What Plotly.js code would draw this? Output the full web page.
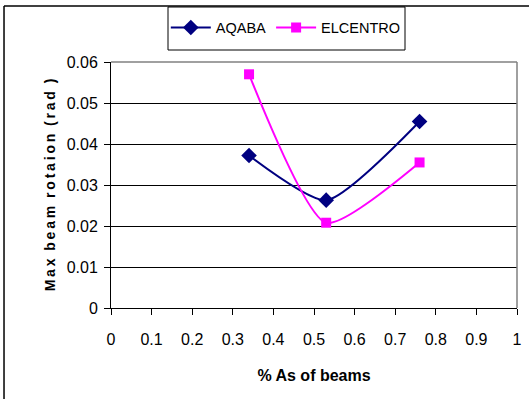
<!DOCTYPE html>
<html>
<head>
<meta charset="utf-8">
<script src="https://cdn.plot.ly/plotly-3.0.1.min.js"></script>
<style>
  html, body { margin: 0; padding: 0; background: #fff; }
  #chart { width: 529px; height: 399px; }
</style>
</head>
<body>
<div id="chart"></div>
<script>
// Steel ratio of beams (%As) against peak beam rotation for two records
const asRatio = [0.34, 0.53, 0.76];
const aqabaRotation = [0.0372, 0.0263, 0.0455];
const elcentroRotation = [0.0570, 0.0208, 0.0355];
const xTicks = [0, 0.1, 0.2, 0.3, 0.4, 0.5, 0.6, 0.7, 0.8, 0.9, 1];
const yTicks = [0, 0.01, 0.02, 0.03, 0.04, 0.05, 0.06];

const sans = '"Liberation Sans", Arial, sans-serif';
const tickFont = { family: sans, size: 16, color: '#000' };

// letter-spaced axis caption
const spaced = s => s.split(' ').map(w => w.split('').join('\u2009')).join('\u00a0\u00a0');
const yTitle = spaced('Max beam rotaion (rad )');

const traces = [
  {
    x: asRatio, y: aqabaRotation, name: 'AQABA',
    mode: 'lines+markers', type: 'scatter',
    line: { color: '#000080', width: 2, shape: 'spline', smoothing: 0.6 },
    marker: { symbol: 'diamond', size: 12, color: '#000080' }
  },
  {
    x: asRatio, y: elcentroRotation, name: 'ELCENTRO',
    mode: 'lines+markers', type: 'scatter',
    line: { color: '#FF00FF', width: 2, shape: 'spline', smoothing: 0.6 },
    marker: { symbol: 'square', size: 10, color: '#FF00FF' }
  }
];

const layout = {
  width: 529, height: 399,
  margin: { l: 111, r: 12, t: 62, b: 91 },
  paper_bgcolor: '#fff', plot_bgcolor: '#fff',
  showlegend: true,
  legend: {
    orientation: 'h', x: 0.135, xanchor: 'left', y: 1.14, yanchor: 'middle',
    borderwidth: 0, bgcolor: 'rgba(0,0,0,0)',
    font: { family: sans, size: 14.5, color: '#000' },
    itemwidth: 40
  },
  xaxis: {
    range: [0, 1], tickvals: xTicks, ticktext: xTicks.map(String),
    showgrid: false, zeroline: false,
    showline: true, linecolor: '#000', linewidth: 1,
    ticks: 'outside', ticklen: 6, tickcolor: '#000',
    tickfont: tickFont, ticklabelstandoff: 11,
    title: { text: '% As of beams', font: { family: sans, size: 16, color: '#000', weight: 'bold' }, standoff: 22 }
  },
  yaxis: {
    range: [0, 0.06], tickvals: yTicks, ticktext: yTicks.map(String),
    showgrid: true, gridcolor: '#000', gridwidth: 1,
    zeroline: false,
    showline: true, linecolor: '#000', linewidth: 1,
    ticks: 'outside', ticklen: 6, tickcolor: '#000',
    tickfont: tickFont, ticklabelstandoff: 3,
    title: { text: yTitle, font: { family: sans, size: 14, color: '#000', weight: 'bold' }, standoff: 7 }
  },
  shapes: [
    // legend frame
    { type: 'rect', xref: 'paper', yref: 'paper', x0: (168 - 111) / 406, x1: (405 - 111) / 406, y0: (308 - 50) / 246, y1: (308 - 7) / 246, line: { color: '#000', width: 1 }, layer: 'below' },
    // gray frame on the top and right of the plot area
    { type: 'line', xref: 'paper', yref: 'paper', x0: 0, x1: 1, y0: 1, y1: 1, line: { color: '#808080', width: 1.5 } },
    { type: 'line', xref: 'paper', yref: 'paper', x0: 1, x1: 1, y0: 0, y1: 1, line: { color: '#808080', width: 1.5 } },
    // outer chart border
    { type: 'line', xref: 'paper', yref: 'paper', x0: -0.2635, x1: -0.2635, y0: -0.37, y1: 1.228, line: { color: '#000', width: 1.5 } },
    { type: 'line', xref: 'paper', yref: 'paper', x0: -0.2635, x1: 1.03, y0: 1.228, y1: 1.228, line: { color: '#000', width: 1.5 } }
  ]
};

Plotly.newPlot('chart', traces, layout, { displayModeBar: false, staticPlot: true });
</script>
</body>
</html>
